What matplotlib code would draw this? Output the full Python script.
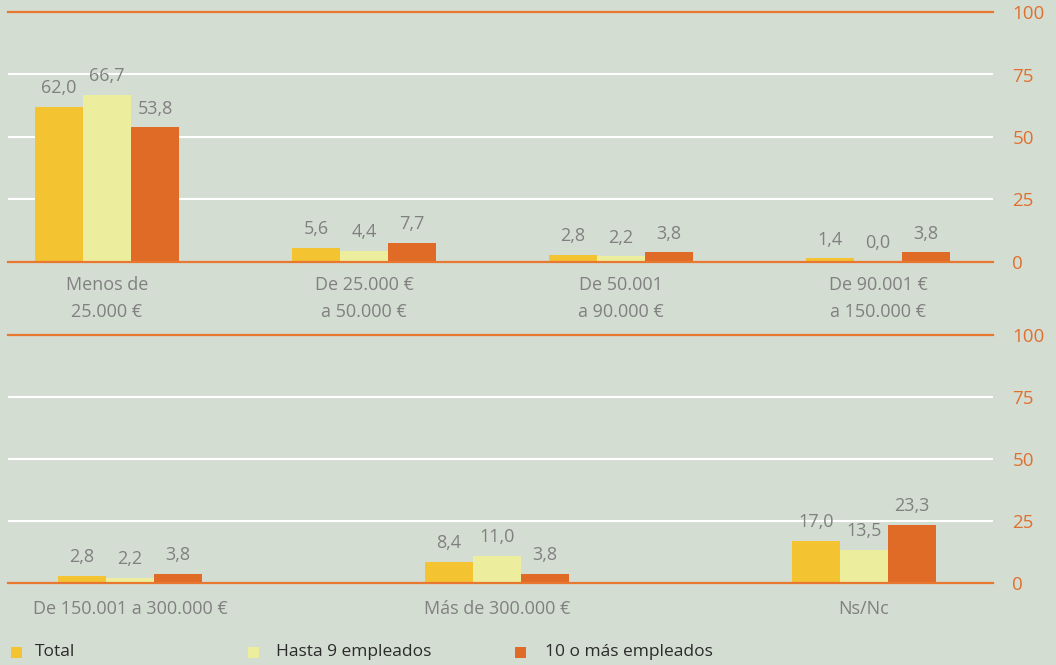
import matplotlib
matplotlib.use("Agg")
import matplotlib.pyplot as plt
from matplotlib.patches import Rectangle
import numpy as np

plt.rcParams['font.family'] = ['Open Sans', 'DejaVu Sans']

# ---- data ----
series = ["Total", "Hasta 9 empleados", "10 o más empleados"]
cats_top = ["Menos de\n25.000 €", "De 25.000 €\na 50.000 €", "De 50.001\na 90.000 €", "De 90.001 €\na 150.000 €"]
total_top = [62.0, 5.6, 2.8, 1.4]
hasta9_top = [66.7, 4.4, 2.2, 0.0]
mas10_top = [53.8, 7.7, 3.8, 3.8]

cats_bot = ["De 150.001 a 300.000 €", "Más de 300.000 €", "Ns/Nc"]
total_bot = [2.8, 8.4, 17.0]
hasta9_bot = [2.2, 11.0, 13.5]
mas10_bot = [3.8, 3.8, 23.3]

yticks = [0, 25, 50, 75, 100]

# ---- style ----
BG = "#D4DDD2"
COLORS = ["#F3C332", "#EDED9E", "#E06B27"]
ORANGE = "#E8782F"
TICKC = "#E07030"
GREY = "#808080"

W, H = 1056, 665
fig = plt.figure(figsize=(W / 100, H / 100), dpi=100, facecolor=BG)


def fmt(v):
    return f"{v:.1f}".replace(".", ",")


def panel(rect_px, cats, vals, xlim, width, pad):
    l, t, r, b = rect_px
    ax = fig.add_axes([l / W, 1 - b / H, (r - l) / W, (b - t) / H])
    ax.set_facecolor(BG)
    x = np.arange(len(cats))
    for i, (v, c) in enumerate(zip(vals, COLORS)):
        pos = x + (i - 1) * width
        ax.bar(pos, v, width=width, color=c, zorder=2, linewidth=0)
        for px, pv in zip(pos, v):
            ax.annotate(fmt(pv), (px, pv), xytext=(0, 10), textcoords="offset points",
                        ha="center", va="baseline", fontsize=13, color=GREY)
    ax.set_xlim(*xlim)
    ax.set_ylim(0, 100)
    for y in [25, 50, 75]:
        ax.axhline(y, color="white", lw=1.5, zorder=1)
    for y in [0, 100]:
        ax.axhline(y, color=ORANGE, lw=1.6, zorder=3, clip_on=False)
    for s in ax.spines.values():
        s.set_visible(False)
    ax.yaxis.tick_right()
    ax.set_yticks(yticks)
    ax.set_yticklabels([str(v) for v in yticks])
    ax.tick_params(axis="y", length=0, pad=14, labelsize=13.5, labelcolor=TICKC)
    ax.set_xticks(x)
    ax.set_xticklabels(cats)
    ax.tick_params(axis="x", length=0, pad=pad, labelsize=13, labelcolor=GREY)
    for lab in ax.get_xticklabels():
        lab.set_linespacing(1.65)
    for lab in ax.get_yticklabels():
        lab.set_horizontalalignment("left")
    return ax


panel((8, 12, 993, 262), cats_top, [total_top, hasta9_top, mas10_top],
      ((8 - 107) / 257, (993 - 107) / 257), 48 / 257, 10)
panel((8, 335, 993, 583), cats_bot, [total_bot, hasta9_bot, mas10_bot],
      ((8 - 130) / 367, (993 - 130) / 367), 48 / 367, 12)

# ---- legend ----
leg_sq_x = [11, 248, 515]
leg_tx_x = [35, 276, 545]
for name, c, sx, tx in zip(series, COLORS, leg_sq_x, leg_tx_x):
    fig.add_artist(Rectangle((sx / W, 1 - 658 / H), 11 / W, 11 / H,
                             transform=fig.transFigure, color=c, lw=0))
    fig.text(tx / W, 1 - 652 / H, name, fontsize=12.5, color="#2b2b2b",
             ha="left", va="center")

fig.savefig("out.png", dpi=100, facecolor=BG)
